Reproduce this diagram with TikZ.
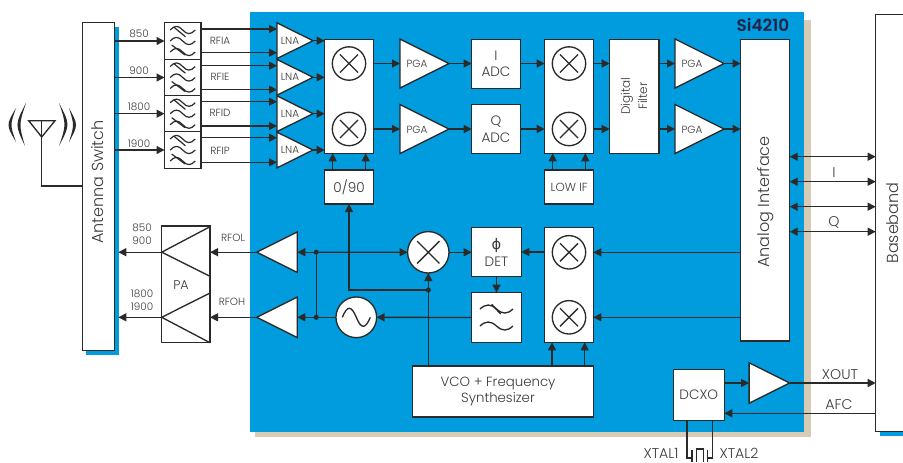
\documentclass[tikz,border=0pt]{standalone}
\usepackage{fontspec}
\setmainfont{Poppins}[UprightFont=* Light,BoldFont=* SemiBold]
\newfontfamily\phifont{DejaVu Sans}
\usetikzlibrary{arrows.meta,shapes.geometric,calc}
\definecolor{chipblue}{HTML}{009CDD}
\definecolor{chiptan}{HTML}{D8CBB6}
\definecolor{ink}{HTML}{2A2A2A}
\definecolor{txt}{HTML}{3A3A3A}
\tikzset{
  ln/.style={draw=ink,line width=1pt},
  arr/.style={ln,-{Triangle[length=6pt,width=6pt]}},
  dbl/.style={ln,{Triangle[length=6pt,width=6pt]}-{Triangle[length=6pt,width=6pt]}},
  bxs/.style={draw=ink,line width=1pt,fill=white,inner sep=0pt,outer sep=0pt,text=txt,align=center,font=\fontsize{10.2}{12.7}\selectfont},
  crc/.style={circle,draw=ink,line width=1pt,fill=white,inner sep=0pt,outer sep=0pt},
  trs/.style={isosceles triangle,isosceles triangle stretches,draw=ink,line width=1pt,fill=white,inner sep=0pt,outer sep=0pt,anchor=apex},
  lab/.style={text=txt,inner sep=0pt,align=center,font=\fontsize{7.8}{9.7}\selectfont},
  lbb/.style={text=txt,inner sep=0pt,align=center,font=\fontsize{10.6}{12}\selectfont},
  big/.style={text=txt,inner sep=0pt,align=center,rotate=90,font=\fontsize{12}{14}\selectfont},
  dot/.style={circle,fill=ink,inner sep=0pt,minimum size=3.8pt},
}
\newcommand\bx[6]{\pgfmathsetmacro\ww{(#4-#2)*0.75}\pgfmathsetmacro\hh{(#5-#3)*0.75}\node[bxs,minimum width=\ww pt,minimum height=\hh pt] (#1) at ({(#2+#4)/2},{(#3+#5)/2}) {#6};}
\newcommand\tri[6]{\pgfmathsetmacro\ww{#4*0.75}\pgfmathsetmacro\hh{#5*0.75}\node[trs,minimum width=\ww pt,minimum height=\hh pt,shape border rotate=#6] (#1) at (#2,#3) {};}
\newcommand\mx[4]{\pgfmathsetmacro\dd{#4*2*0.75}\node[crc,minimum size=\dd pt] (#1) at (#2,#3) {};\draw[ln] ({#2-.54*#4},{#3-.54*#4}) -- ({#2+.54*#4},{#3+.54*#4}) ({#2-.54*#4},{#3+.54*#4}) -- ({#2+.54*#4},{#3-.54*#4});}
\newcommand\wv[5][0.9pt]{\draw[draw=ink,line width=#1] ({#2-#4},#3) .. controls ({#2-.65*#4},{#3-1.33*#5}) and ({#2-.35*#4},{#3-1.33*#5}) .. (#2,#3) .. controls ({#2+.35*#4},{#3+1.33*#5}) and ({#2+.65*#4},{#3+1.33*#5}) .. ({#2+#4},#3);}
\newcommand\filt[2]{\wv{#1}{#2-11}{12.5}{3.6}\wv{#1}{#2}{12.5}{3.6}\wv{#1}{#2+11}{12.5}{3.6}\draw[draw=ink,line width=.9pt] ({#1-9},{#2-14}) -- ({#1+2.7},{#2-4.3}) ({#1-11},{#2+4}) -- ({#1+2.3},{#2+14});}
\newcommand\cres[6]{\fill[ink] (#1,#2) .. controls (#5,{(#2+#4)/2}) .. (#3,#4) .. controls (#6,{(#2+#4)/2}) .. (#1,#2) -- cycle;}
\begin{document}
\begin{tikzpicture}[x=0.75pt,y=-0.75pt]
\useasboundingbox (0,0) rectangle (903,462);
% backgrounds
\fill[chiptan] (255,20) rectangle (811,437);
\fill[chipblue] (250,12) rectangle (804,432);
\fill[chipblue] (86,27) rectangle (119,355);
\fill[chipblue] (880,420) rectangle (903,436);
% outer blocks
\bx{sw}{82.7}{22.7}{114.7}{350.5}{}
\node[big] (swl) at (98,182) {Antenna Switch};
\bx{bb}{875.7}{14.7}{915}{431.7}{}
\node[big] (bbl) at (893,223) {Baseband};
\node[font=\bfseries\fontsize{12.6}{14}\selectfont,text=ink!85!blue,inner sep=0pt] (chip) at (763,25) {Si4210};
\coordinate (swt) at (118.3,0);
% antenna
\coordinate (ant) at (41.7,120.7);
\draw[ln] (28.7,120.7) -- (55,120.7) -- (41.7,137) -- cycle;
\draw[ln] (ant) -- (41.7,186) -- (sw.west |- 0,186);
\cres{26}{103}{25}{146}{14.8}{18.8}
\cres{16}{108}{16}{142}{6}{10}
\cres{59}{103}{59}{146}{70.3}{66.3}
\cres{69}{108}{69}{142}{78.3}{74.3}
% input filters
\bx{f1}{164.5}{22.7}{201}{59.3}{}
\bx{f2}{164.5}{59.3}{201}{95.7}{}
\bx{f3}{164.5}{95.7}{201}{131.7}{}
\bx{f4}{164.5}{131.7}{201}{168.3}{}
\filt{182.7}{41}\filt{182.7}{77.5}\filt{182.7}{113.7}\filt{182.7}{150}
\foreach \n/\t/\y in {f1/850/34,f2/900/71,f3/1800/107,f4/1900/144}{\node[lab] (b\n) at (139,\y) {\t};}
\node[lab] (rf1) at (220,41) {RFIA};
\node[lab] (rf2) at (220,77) {RFIE};
\node[lab] (rf3) at (220,113) {RFID};
\node[lab] (rf4) at (220,151) {RFIP};
\foreach \n in {f1,f2,f3,f4}{\draw[arr] (sw.east |- \n.west) -- (\n.west);}
% LNAs
\tri{l1}{313}{40.7}{35.7}{36}{0}
\tri{l2}{313}{77.3}{35.7}{36}{0}
\tri{l3}{313}{113.7}{35.7}{36}{0}
\tri{l4}{313}{150}{35.7}{36}{0}
\foreach \n/\y in {l1/40.7,l2/77.3,l3/113.7,l4/150}{\node[lab] (t\n) at (290,\y) {LNA};}
\draw[arr] (f1.east |- 0,29) -- (l1.west |- 0,29);
\draw[arr] (f1.east |- 0,52.7) -- (l1.west |- 0,52.7);
\draw[arr] (f2.east |- 0,65.7) -- (l2.west |- 0,65.7);
\draw[arr] (f2.east |- 0,89.7) -- (l2.west |- 0,89.7);
\draw[arr] (f3.east |- 0,101.7) -- (l3.west |- 0,101.7);
\draw[arr] (f3.east |- 0,126) -- (l3.west |- 0,126);
\draw[arr] (f4.east |- 0,137.7) -- (l4.west |- 0,137.7);
\draw[arr] (f4.east |- 0,162.3) -- (l4.west |- 0,162.3);
% upper chain
\bx{m1}{324.7}{39.3}{373.3}{153.3}{}
\mx{c1}{349}{63.5}{16.7}
\mx{c2}{349}{129}{16.7}
\foreach \n in {l1,l2,l3,l4}{\draw[arr] (\n.apex) -- (m1.west |- \n.apex);}
\tri{p1}{449}{63.5}{49}{49}{0}
\tri{p2}{449}{129}{49}{49}{0}
\node[lab] (tp1) at (417,64) {PGA};
\node[lab] (tp2) at (417,130) {PGA};
\bx{ai}{471.7}{39.3}{520.3}{88.3}{I\\ADC}
\bx{aq}{471.7}{104.7}{520.3}{153.3}{Q\\ADC}
\bx{m2}{544.7}{39.3}{593.7}{153.3}{}
\mx{c3}{569}{63.5}{16.7}
\mx{c4}{569}{129}{16.7}
\bx{df}{609.7}{39.3}{659}{153.3}{}
\node[text=txt,inner sep=0pt,align=center,rotate=90,font=\fontsize{9}{13}\selectfont] (dfl) at (634,96) {Digital\\Filter};
\tri{p3}{724}{63.5}{49}{49}{0}
\tri{p4}{724}{129}{49}{49}{0}
\node[lab] (tp3) at (692,64) {PGA};
\node[lab] (tp4) at (692,130) {PGA};
\bx{an}{740.7}{39.3}{789.7}{341}{}
\node[big] (anl) at (766,202) {Analog Interface};
\draw[arr] (m1.east |- p1.apex) -- (p1.west |- p1.apex);
\draw[arr] (m1.east |- p2.apex) -- (p2.west |- p2.apex);
\draw[arr] (p1.apex) -- (ai.west |- p1.apex);
\draw[arr] (p2.apex) -- (aq.west |- p2.apex);
\draw[arr] (ai.east |- p1.apex) -- (m2.west |- p1.apex);
\draw[arr] (aq.east |- p2.apex) -- (m2.west |- p2.apex);
\draw[arr] (m2.east |- p1.apex) -- (df.west |- p1.apex);
\draw[arr] (m2.east |- p2.apex) -- (df.west |- p2.apex);
\draw[arr] (df.east |- p3.apex) -- (p3.west |- p3.apex);
\draw[arr] (df.east |- p4.apex) -- (p4.west |- p4.apex);
\draw[arr] (p3.apex) -- (an.west |- p3.apex);
\draw[arr] (p4.apex) -- (an.west |- p4.apex);
\bx{q9}{324.7}{170}{373.3}{204}{0/90}
\bx{lif}{544.7}{170}{593.7}{204}{\fontsize{8.8}{10}\selectfont LOW IF}
\draw[arr] (332.7,0 |- q9.north) -- (332.7,0 |- m1.south);
\draw[arr] (365.7,0 |- q9.north) -- (365.7,0 |- m1.south);
\draw[arr] (552.7,0 |- lif.north) -- (552.7,0 |- m2.south);
\draw[arr] (585.3,0 |- lif.north) -- (585.3,0 |- m2.south);
% baseband I/O
\draw[dbl] (an.east |- 0,156.7) -- (bb.west |- 0,156.7);
\draw[dbl] (an.east |- 0,181.7) -- (bb.west |- 0,181.7);
\draw[dbl] (an.east |- 0,206.7) -- (bb.west |- 0,206.7);
\draw[dbl] (an.east |- 0,231.7) -- (bb.west |- 0,231.7);
\node[lbb] (il) at (834,173) {I};
\node[lbb] (ql) at (834,222) {Q};
% lower chain
\bx{m3}{544.3}{227.7}{593.3}{342.3}{}
\mx{c5}{569}{252.3}{16.7}
\mx{c6}{569}{317.3}{16.7}
\bx{det}{471.7}{227.7}{521.3}{276.3}{{\phifont\fontsize{11}{12.7}\selectfont ϕ}\\DET}
\bx{flt}{471.7}{292.7}{521.3}{342.3}{}
\wv[1pt]{496.5}{309}{16.5}{4}
\wv[1pt]{496.5}{326}{16.5}{4}
\draw[draw=ink,line width=1pt] (491.7,304.3) -- (500.7,314);
\mx{mb}{428.3}{252.3}{20.7}
\node[crc,minimum size=30.5pt] (sn) at (356.3,317.3) {};
\wv[1pt]{356.3}{317.3}{14}{9}
\bx{vco}{412.7}{366}{593.3}{417}{}
\node[text=txt,inner sep=0pt,align=center,font=\fontsize{10}{12.7}\selectfont] (vcl) at (498,391.5) {VCO + Frequency\\Synthesizer};
\tri{tl}{256.7}{252.2}{40.6}{40.6}{180}
\tri{tb}{256.7}{317.3}{40.6}{40.6}{180}
\node[dot] (d1) at (316.3,252.2) {};
\node[dot] (d2) at (316.3,317.3) {};
\node[dot] (d3) at (428.3,290) {};
\draw[ln] (d1) -- (d2);
\draw[arr] (d1) -- (mb.west);
\draw[arr] (d1) -- (tl.east);
\draw[arr] (d2) -- (tb.east);
\draw[ln] (sn.west) -- (d2);
\draw[arr] (flt.west) -- (sn.east);
\draw[arr] (mb.east) -- (det.west |- mb.east);
\draw[arr] (m3.west |- det.west) -- (det.east);
\draw[arr] (det.south) -- (flt.north);
\draw[arr] (428.3,0 |- vco.north) -- (mb.south);
\draw[arr] (d3) -- (q9.south |- d3) -- (q9.south);
\draw[arr] (552,0 |- vco.north) -- (552,0 |- m3.south);
\draw[arr] (584.7,0 |- vco.north) -- (584.7,0 |- m3.south);
\draw[arr] (an.west |- c5.center) -- (m3.east |- c5.center);
\draw[arr] (an.west |- c6.center) -- (m3.east |- c6.center);
% PA
\bx{pa}{161.7}{226}{210}{342.7}{}
\coordinate (pa1) at (161.7,252.2);
\coordinate (pa2) at (161.7,317.3);
\draw[ln] (210,226.7) -- (pa1) -- (210,276.3);
\draw[ln] (210,293) -- (pa2) -- (210,342.7);
\node[text=txt,inner sep=0pt,font=\fontsize{9.5}{11}\selectfont] (pal) at (181,285) {PA};
\draw[arr] (tl.apex) -- (pa.east |- tl.apex);
\draw[arr] (tb.apex) -- (pa.east |- tb.apex);
\draw[arr] (pa1) -- (swt |- pa1);
\draw[arr] (pa2) -- (swt |- pa2);
\node[lab] (n1) at (142,234.5) {850\\900};
\node[lab] (n2) at (142,300.5) {1800\\1900};
\node[lab] (rl) at (233,238) {RFOL};
\node[lab] (rh) at (232,302) {RFOH};
% DCXO
\bx{dc}{673.3}{369.7}{724.3}{420.7}{DCXO}
\tri{tx}{789.7}{383}{40.4}{40.6}{0}
\draw[arr] (dc.east |- tx.apex) -- (tx.west |- tx.apex);
\draw[arr] (tx.apex) -- (bb.west |- tx.apex);
\draw[arr] (bb.west |- 0,413.3) -- (dc.east |- 0,413.3);
\node[lbb] (xo) at (840,375) {XOUT};
\node[lbb] (af) at (839,405) {AFC};
\draw[ln] (687,0 |- dc.south) -- (687,458) -- (692,458);
\draw[ln] (712.3,0 |- dc.south) -- (712.3,458) -- (707.3,458);
\draw[ln] (692,450) -- (692,462);
\draw[ln] (707.3,450) -- (707.3,462);
\draw[ln] (696.7,462) -- (696.7,449) -- (703.3,449) -- (703.3,462);
\node[lbb] (x1) at (661,453) {XTAL1};
\node[lbb] (x2) at (739,453) {XTAL2};
\end{tikzpicture}
\end{document}
